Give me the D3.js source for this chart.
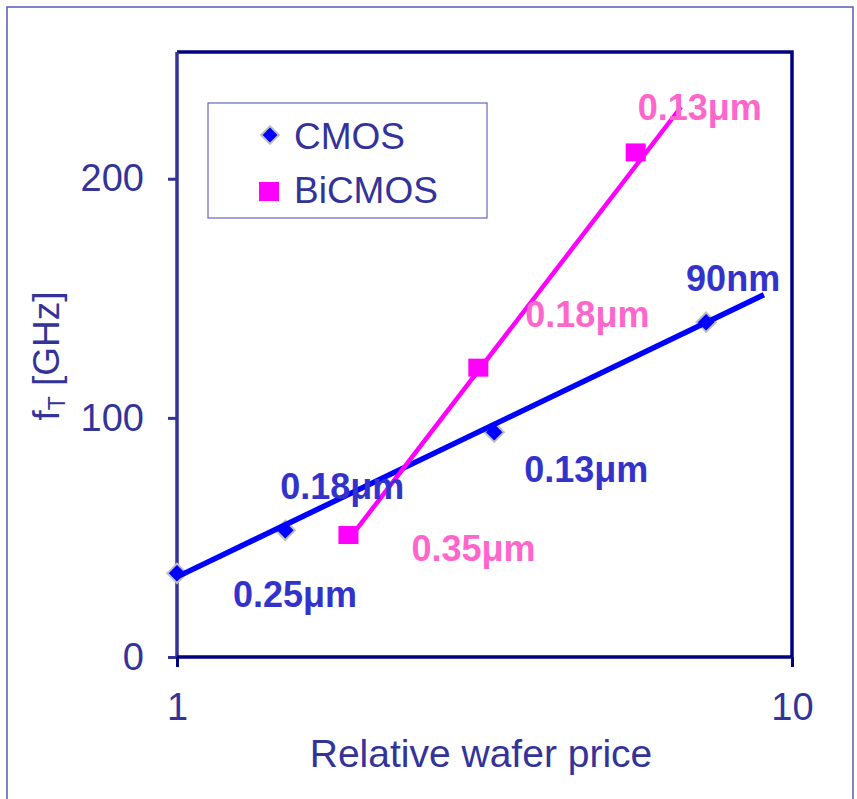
<!DOCTYPE html>
<html lang="en">
  <head>
    <meta charset="utf-8">
    <title>fT vs relative wafer price</title>
    <script src="https://cdn.jsdelivr.net/npm/d3@7"></script>
    <style type="text/css">
      body { margin: 0; background: #fff; }
      text { font-family: "Liberation Sans", Arial, sans-serif; }
    </style>
  </head>
  <body>
    <script type="text/javascript">
      // data
      var cmosPrice = [1.0, 1.5, 3.28, 7.25];
      var cmosFt = [35, 53, 94, 140];
      var cmosNodes = ['0.25\u03bcm', '0.18\u03bcm', '0.13\u03bcm', '90nm'];
      var cmosTrendPrice = [1.0, 9.0];
      var cmosTrendFt = [33.5, 151.5];

      var bicmosPrice = [1.9, 3.09, 5.57];
      var bicmosFt = [51, 121, 211];
      var bicmosNodes = ['0.35\u03bcm', '0.18\u03bcm', '0.13\u03bcm'];
      var bicmosTrendPrice = [1.9, 6.6];
      var bicmosTrendFt = [49, 230];

      var xTicks = [1, 10];
      var yTicks = [0, 100, 200];

      var w = 857, h = 799;
      var pLeft = 177, pRight = 792, pTop = 52, pBottom = 657;

      var svg = d3.select('body').append('svg')
                  .attr('width', w)
                  .attr('height', h);

      // outer frame
      svg.append('rect')
         .attr('x', 7).attr('y', 7)
         .attr('width', 846).attr('height', 820)
         .attr('fill', 'none')
         .attr('stroke', '#5a5ab8')
         .attr('stroke-width', 1.5);

      var xScale = d3.scaleLog().domain([1, 10]).range([pLeft, pRight]);
      var yScale = d3.scaleLinear().domain([0, 253]).range([pBottom, pTop]);

      // plot frame (top + right)
      svg.append('path')
         .attr('d', 'M' + pLeft + ',' + pTop + 'H' + pRight + 'V' + pBottom)
         .attr('fill', 'none')
         .attr('stroke', '#000080')
         .attr('stroke-width', 3.5);

      // y axis
      var yAxis = svg.append('g')
         .attr('transform', 'translate(' + pLeft + ',0)')
         .call(d3.axisLeft(yScale).tickValues(yTicks).tickSize(9).tickPadding(24));
      yAxis.select('.domain').attr('stroke', '#333399').attr('stroke-width', 3.5)
           .attr('d', 'M0,' + pTop + 'V' + pBottom);
      yAxis.selectAll('line').attr('stroke', '#333399').attr('stroke-width', 3);
      yAxis.selectAll('text').attr('fill', '#333399').attr('font-size', '38px');

      // x axis
      var xAxis = svg.append('g')
         .attr('transform', 'translate(0,' + pBottom + ')')
         .call(d3.axisBottom(xScale).tickValues(xTicks).tickFormat(d3.format('d')).tickSize(10).tickPadding(26));
      xAxis.select('.domain').attr('stroke', '#000080').attr('stroke-width', 3.5)
           .attr('d', 'M' + pLeft + ',0H' + pRight);
      xAxis.selectAll('line').attr('stroke', '#000080').attr('stroke-width', 3);
      xAxis.selectAll('text').attr('fill', '#333399').attr('font-size', '38px');

      // axis titles
      svg.append('text')
         .attr('x', 481)
         .attr('y', 767)
         .attr('text-anchor', 'middle')
         .attr('fill', '#333399')
         .attr('font-size', '39px')
         .text('Relative wafer price');

      var yTitle = svg.append('text')
         .attr('transform', 'translate(59,356) rotate(-90)')
         .attr('text-anchor', 'middle')
         .attr('fill', '#333399')
         .attr('font-size', '37px');
      yTitle.append('tspan').text('f');
      yTitle.append('tspan').attr('font-size', '23px').attr('dy', 6).text('T');
      yTitle.append('tspan').attr('dy', -6).text(' [GHz]');

      var lineGen = d3.line()
          .x(function(d) { return xScale(d[0]); })
          .y(function(d) { return yScale(d[1]); });

      var cmosTrend = d3.zip(cmosTrendPrice, cmosTrendFt);
      var bicmosTrend = d3.zip(bicmosTrendPrice, bicmosTrendFt);
      var cmos = d3.zip(cmosPrice, cmosFt, cmosNodes);
      var bicmos = d3.zip(bicmosPrice, bicmosFt, bicmosNodes);

      // CMOS markers under the line
      svg.selectAll('.cmosPt')
         .data(cmos)
         .enter()
         .append('path')
         .attr('class', 'cmosPt')
         .attr('d', d3.symbol().type(d3.symbolDiamond2).size(240))
         .attr('transform', function(d) { return 'translate(' + xScale(d[0]) + ',' + yScale(d[1]) + ')'; })
         .attr('fill', '#0000ff')
         .attr('stroke', '#c0c0c0')
         .attr('stroke-width', 2);

      svg.append('path')
         .datum(cmosTrend)
         .attr('d', lineGen)
         .attr('fill', 'none')
         .attr('stroke', '#0000ff')
         .attr('stroke-width', 5.5);

      svg.append('path')
         .datum(bicmosTrend)
         .attr('d', lineGen)
         .attr('fill', 'none')
         .attr('stroke', '#ff00ff')
         .attr('stroke-width', 4.5);

      svg.selectAll('.bicmosPt')
         .data(bicmos)
         .enter()
         .append('rect')
         .attr('class', 'bicmosPt')
         .attr('x', function(d) { return xScale(d[0]) - 10; })
         .attr('y', function(d) { return yScale(d[1]) - 9; })
         .attr('width', 20)
         .attr('height', 18)
         .attr('fill', '#ff00ff');

      // node labels, offsets in px from each point
      var cmosOff = [[56, 34], [-5, -31], [30, 50], [-20, -31]];
      var bicmosOff = [[63, 26], [47, -41], [2, -32]];

      svg.selectAll('.cmosLbl')
         .data(cmos)
         .enter()
         .append('text')
         .attr('class', 'cmosLbl')
         .attr('x', function(d, i) { return xScale(d[0]) + cmosOff[i][0]; })
         .attr('y', function(d, i) { return yScale(d[1]) + cmosOff[i][1]; })
         .attr('fill', '#3333cc')
         .attr('font-weight', 'bold')
         .attr('font-size', '36px')
         .text(function(d) { return d[2]; });

      svg.selectAll('.bicmosLbl')
         .data(bicmos)
         .enter()
         .append('text')
         .attr('class', 'bicmosLbl')
         .attr('x', function(d, i) { return xScale(d[0]) + bicmosOff[i][0]; })
         .attr('y', function(d, i) { return yScale(d[1]) + bicmosOff[i][1]; })
         .attr('fill', '#ff66cc')
         .attr('font-weight', 'bold')
         .attr('font-size', '36px')
         .text(function(d) { return d[2]; });

      // legend
      var lg = svg.append('g').attr('transform', 'translate(208,103)');
      lg.append('rect')
        .attr('width', 279).attr('height', 115)
        .attr('fill', '#fff')
        .attr('stroke', '#6666bb')
        .attr('stroke-width', 1.2);
      lg.append('path')
        .attr('d', d3.symbol().type(d3.symbolDiamond2).size(200))
        .attr('transform', 'translate(62,32)')
        .attr('fill', '#0000ff')
        .attr('stroke', '#c0c0c0')
        .attr('stroke-width', 2);
      lg.append('rect')
        .attr('x', 51).attr('y', 79).attr('width', 20).attr('height', 19)
        .attr('fill', '#ff00ff');
      lg.selectAll('.lgText')
        .data(['CMOS', 'BiCMOS'])
        .enter()
        .append('text')
        .attr('class', 'lgText')
        .attr('x', 86)
        .attr('y', function(d, i) { return 46 + i * 54; })
        .attr('fill', '#333399')
        .attr('font-size', '37px')
        .text(function(d) { return d; });
    </script>
  </body>
</html>
